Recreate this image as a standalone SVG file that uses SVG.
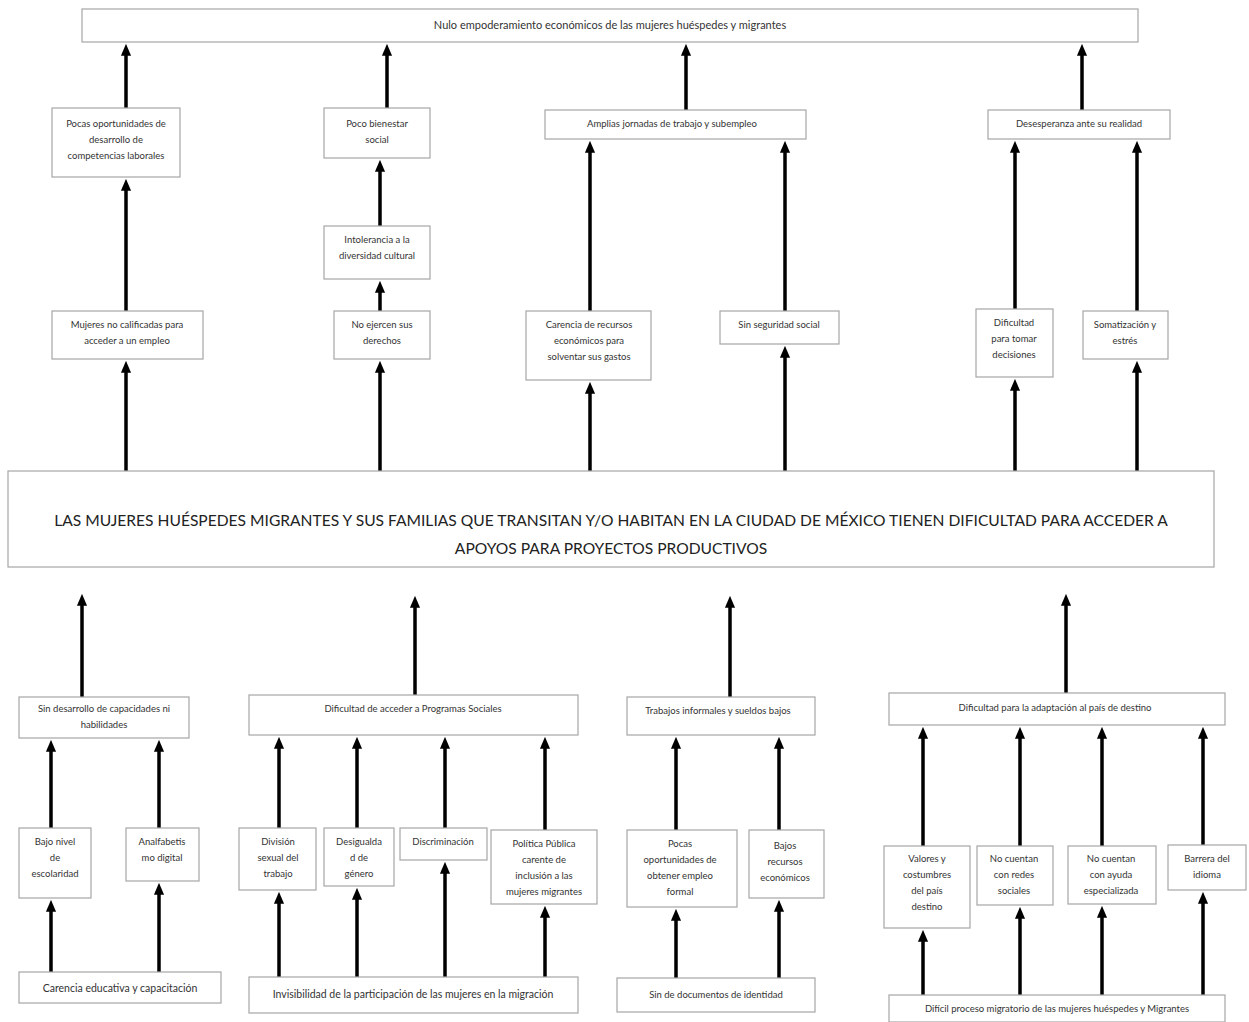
<svg xmlns="http://www.w3.org/2000/svg" width="1249" height="1022" viewBox="0 0 1249 1022">
<style>
.b{fill:#fff;stroke:#a6a6a6;stroke-width:1.2}
.t{font-family:Lato,"Liberation Sans",sans-serif;font-size:9.5px;fill:#333;text-anchor:middle}
.tt{font-family:Lato,"Liberation Sans",sans-serif;font-size:10.5px;fill:#333;text-anchor:middle}
.tm{font-family:Lato,"Liberation Sans",sans-serif;font-size:15.6px;fill:#222;text-anchor:middle}
.a{stroke:#000;stroke-width:3.5;marker-end:url(#ah)}
</style>
<defs>
<marker id="ah" markerUnits="userSpaceOnUse" markerWidth="12" markerHeight="13" viewBox="0 0 13 11" refX="2" refY="5.5" orient="auto">
<path d="M0,0 L13,5.5 L0,11 z" fill="#000"/>
</marker>
</defs>
<rect width="1249" height="1022" fill="#fff"/>
<g id="connectors">
<line class="a" x1="126" y1="108" x2="126" y2="54"/>
<line class="a" x1="387" y1="108" x2="387" y2="54"/>
<line class="a" x1="686" y1="110" x2="686" y2="54"/>
<line class="a" x1="1082" y1="110" x2="1082" y2="54"/>
<line class="a" x1="126" y1="311" x2="126" y2="189"/>
<line class="a" x1="380" y1="226" x2="380" y2="170"/>
<line class="a" x1="380" y1="311" x2="380" y2="291"/>
<line class="a" x1="590" y1="311" x2="590" y2="151"/>
<line class="a" x1="785" y1="311" x2="785" y2="151"/>
<line class="a" x1="1015" y1="309" x2="1015" y2="151"/>
<line class="a" x1="1137" y1="311" x2="1137" y2="151"/>
<line class="a" x1="126" y1="471" x2="126" y2="371"/>
<line class="a" x1="380" y1="471" x2="380" y2="371"/>
<line class="a" x1="590" y1="471" x2="590" y2="392"/>
<line class="a" x1="785" y1="471" x2="785" y2="356"/>
<line class="a" x1="1015" y1="471" x2="1015" y2="389"/>
<line class="a" x1="1137" y1="471" x2="1137" y2="371"/>
<line class="a" x1="82" y1="697" x2="82" y2="604"/>
<line class="a" x1="415" y1="695" x2="415" y2="606"/>
<line class="a" x1="730" y1="697" x2="730" y2="606"/>
<line class="a" x1="1066" y1="693" x2="1066" y2="604"/>
<line class="a" x1="51" y1="828" x2="51" y2="750"/>
<line class="a" x1="159" y1="828" x2="159" y2="750"/>
<line class="a" x1="51" y1="972" x2="51" y2="910"/>
<line class="a" x1="159" y1="972" x2="159" y2="893"/>
<line class="a" x1="279" y1="828" x2="279" y2="747"/>
<line class="a" x1="357" y1="828" x2="357" y2="747"/>
<line class="a" x1="445" y1="828" x2="445" y2="747"/>
<line class="a" x1="545" y1="830" x2="545" y2="747"/>
<line class="a" x1="279" y1="977" x2="279" y2="902"/>
<line class="a" x1="357" y1="977" x2="357" y2="898"/>
<line class="a" x1="445" y1="977" x2="445" y2="872"/>
<line class="a" x1="545" y1="977" x2="545" y2="916"/>
<line class="a" x1="676" y1="830" x2="676" y2="747"/>
<line class="a" x1="779" y1="830" x2="779" y2="747"/>
<line class="a" x1="676" y1="978" x2="676" y2="919"/>
<line class="a" x1="779" y1="978" x2="779" y2="910"/>
<line class="a" x1="923" y1="846" x2="923" y2="737"/>
<line class="a" x1="1020" y1="846" x2="1020" y2="737"/>
<line class="a" x1="1102" y1="846" x2="1102" y2="737"/>
<line class="a" x1="1203" y1="845" x2="1203" y2="737"/>
<line class="a" x1="923" y1="995" x2="923" y2="940"/>
<line class="a" x1="1020" y1="995" x2="1020" y2="917"/>
<line class="a" x1="1102" y1="995" x2="1102" y2="916"/>
<line class="a" x1="1203" y1="995" x2="1203" y2="902"/>
</g>
<g id="n-top"><rect class="b" x="82" y="9" width="1056" height="33"/><text class="tt" x="610" y="29" style="font-size:11px">Nulo empoderamiento económicos de las mujeres huéspedes y migrantes</text></g>
<g id="n-pocas-oport"><rect class="b" x="52" y="108" width="128" height="69"/><text class="t" x="116" y="127"><tspan x="116">Pocas oportunidades de</tspan><tspan x="116" dy="16">desarrollo de</tspan><tspan x="116" dy="16">competencias laborales</tspan></text></g>
<g id="n-poco-bienestar"><rect class="b" x="324" y="108" width="106" height="50"/><text class="t" x="377" y="127"><tspan x="377">Poco bienestar</tspan><tspan x="377" dy="16">social</tspan></text></g>
<g id="n-amplias"><rect class="b" x="545" y="110" width="261" height="29"/><text class="t" x="672" y="127">Amplias jornadas de trabajo y subempleo</text></g>
<g id="n-desesperanza"><rect class="b" x="988" y="110" width="182" height="29"/><text class="t" x="1079" y="127">Desesperanza ante su realidad</text></g>
<g id="n-intolerancia"><rect class="b" x="324" y="226" width="106" height="53"/><text class="t" x="377" y="243"><tspan x="377">Intolerancia a la</tspan><tspan x="377" dy="16">diversidad cultural</tspan></text></g>
<g id="n-mujeres-no-calif"><rect class="b" x="52" y="311" width="151" height="48"/><text class="t" x="127" y="328"><tspan x="127">Mujeres no calificadas para</tspan><tspan x="127" dy="16">acceder a un empleo</tspan></text></g>
<g id="n-no-ejercen"><rect class="b" x="334" y="311" width="96" height="48"/><text class="t" x="382" y="328"><tspan x="382">No ejercen sus</tspan><tspan x="382" dy="16">derechos</tspan></text></g>
<g id="n-carencia-rec"><rect class="b" x="526" y="311" width="125" height="69"/><text class="t" x="589" y="328"><tspan x="589">Carencia de recursos</tspan><tspan x="589" dy="16">económicos para</tspan><tspan x="589" dy="16">solventar sus gastos</tspan></text></g>
<g id="n-sin-seguridad"><rect class="b" x="720" y="311" width="119" height="33"/><text class="t" x="779" y="328">Sin seguridad social</text></g>
<g id="n-dificultad-tomar"><rect class="b" x="976" y="309" width="77" height="68"/><text class="t" x="1014" y="326"><tspan x="1014">Dificultad</tspan><tspan x="1014" dy="16">para tomar</tspan><tspan x="1014" dy="16">decisiones</tspan></text></g>
<g id="n-somatizacion"><rect class="b" x="1083" y="311" width="85" height="48"/><text class="t" x="1125" y="328"><tspan x="1125">Somatización y</tspan><tspan x="1125" dy="16">estrés</tspan></text></g>
<g id="n-main"><rect class="b" x="8" y="471" width="1206" height="96"/><text class="tm" x="611" y="526"><tspan x="611">LAS MUJERES HUÉSPEDES MIGRANTES Y SUS FAMILIAS QUE TRANSITAN Y/O HABITAN EN LA CIUDAD DE MÉXICO TIENEN DIFICULTAD PARA ACCEDER A</tspan><tspan x="611" dy="28">APOYOS PARA PROYECTOS PRODUCTIVOS</tspan></text></g>
<g id="n-sin-desarrollo"><rect class="b" x="19" y="697" width="170" height="41"/><text class="t" x="104" y="712"><tspan x="104">Sin desarrollo de capacidades ni</tspan><tspan x="104" dy="16">habilidades</tspan></text></g>
<g id="n-bajo-nivel"><rect class="b" x="19" y="828" width="72" height="70"/><text class="t" x="55" y="845"><tspan x="55">Bajo nivel</tspan><tspan x="55" dy="16">de</tspan><tspan x="55" dy="16">escolaridad</tspan></text></g>
<g id="n-analfabetismo"><rect class="b" x="126" y="828" width="73" height="53"/><text class="t" x="162" y="845"><tspan x="162">Analfabetis</tspan><tspan x="162" dy="16">mo digital</tspan></text></g>
<g id="n-carencia-edu"><rect class="b" x="19" y="972" width="202" height="31"/><text class="tt" x="120" y="992">Carencia educativa y capacitación</text></g>
<g id="n-dif-programas"><rect class="b" x="249" y="695" width="329" height="40"/><text class="t" x="413" y="712">Dificultad de acceder a Programas Sociales</text></g>
<g id="n-division"><rect class="b" x="239" y="828" width="77" height="62"/><text class="t" x="278" y="845"><tspan x="278">División</tspan><tspan x="278" dy="16">sexual del</tspan><tspan x="278" dy="16">trabajo</tspan></text></g>
<g id="n-desigualdad"><rect class="b" x="324" y="828" width="70" height="58"/><text class="t" x="359" y="845"><tspan x="359">Desigualda</tspan><tspan x="359" dy="16">d de</tspan><tspan x="359" dy="16">género</tspan></text></g>
<g id="n-discriminacion"><rect class="b" x="400" y="828" width="87" height="32"/><text class="t" x="443" y="845">Discriminación</text></g>
<g id="n-politica"><rect class="b" x="491" y="830" width="106" height="74"/><text class="t" x="544" y="847"><tspan x="544">Política Pública</tspan><tspan x="544" dy="16">carente de</tspan><tspan x="544" dy="16">inclusión a las</tspan><tspan x="544" dy="16">mujeres migrantes</tspan></text></g>
<g id="n-invisibilidad"><rect class="b" x="249" y="977" width="329" height="36"/><text class="tt" x="413" y="998">Invisibilidad de la participación de las mujeres en la migración</text></g>
<g id="n-trabajos-inf"><rect class="b" x="627" y="697" width="188" height="38"/><text class="t" x="718" y="714">Trabajos informales y sueldos bajos</text></g>
<g id="n-pocas-empleo"><rect class="b" x="627" y="830" width="110" height="77"/><text class="t" x="680" y="847"><tspan x="680">Pocas</tspan><tspan x="680" dy="16">oportunidades de</tspan><tspan x="680" dy="16">obtener empleo</tspan><tspan x="680" dy="16">formal</tspan></text></g>
<g id="n-bajos-rec"><rect class="b" x="749" y="830" width="75" height="68"/><text class="t" x="785" y="849"><tspan x="785">Bajos</tspan><tspan x="785" dy="16">recursos</tspan><tspan x="785" dy="16">económicos</tspan></text></g>
<g id="n-sin-docs"><rect class="b" x="617" y="978" width="198" height="34"/><text class="t" x="716" y="998">Sin de documentos de identidad</text></g>
<g id="n-dif-adaptacion"><rect class="b" x="889" y="693" width="336" height="32"/><text class="t" x="1055" y="711">Dificultad para la adaptación al país de destino</text></g>
<g id="n-valores"><rect class="b" x="884" y="846" width="86" height="82"/><text class="t" x="927" y="862"><tspan x="927">Valores y</tspan><tspan x="927" dy="16">costumbres</tspan><tspan x="927" dy="16">del país</tspan><tspan x="927" dy="16">destino</tspan></text></g>
<g id="n-redes"><rect class="b" x="977" y="846" width="76" height="59"/><text class="t" x="1014" y="862"><tspan x="1014">No cuentan</tspan><tspan x="1014" dy="16">con redes</tspan><tspan x="1014" dy="16">sociales</tspan></text></g>
<g id="n-ayuda"><rect class="b" x="1068" y="846" width="88" height="58"/><text class="t" x="1111" y="862"><tspan x="1111">No cuentan</tspan><tspan x="1111" dy="16">con ayuda</tspan><tspan x="1111" dy="16">especializada</tspan></text></g>
<g id="n-idioma"><rect class="b" x="1168" y="845" width="78" height="45"/><text class="t" x="1207" y="862"><tspan x="1207">Barrera del</tspan><tspan x="1207" dy="16">idioma</tspan></text></g>
<g id="n-dificil-proceso"><rect class="b" x="889" y="995" width="336" height="27"/><text class="t" x="1057" y="1012">Difícil proceso migratorio de las mujeres huéspedes y Migrantes</text></g>
</svg>
